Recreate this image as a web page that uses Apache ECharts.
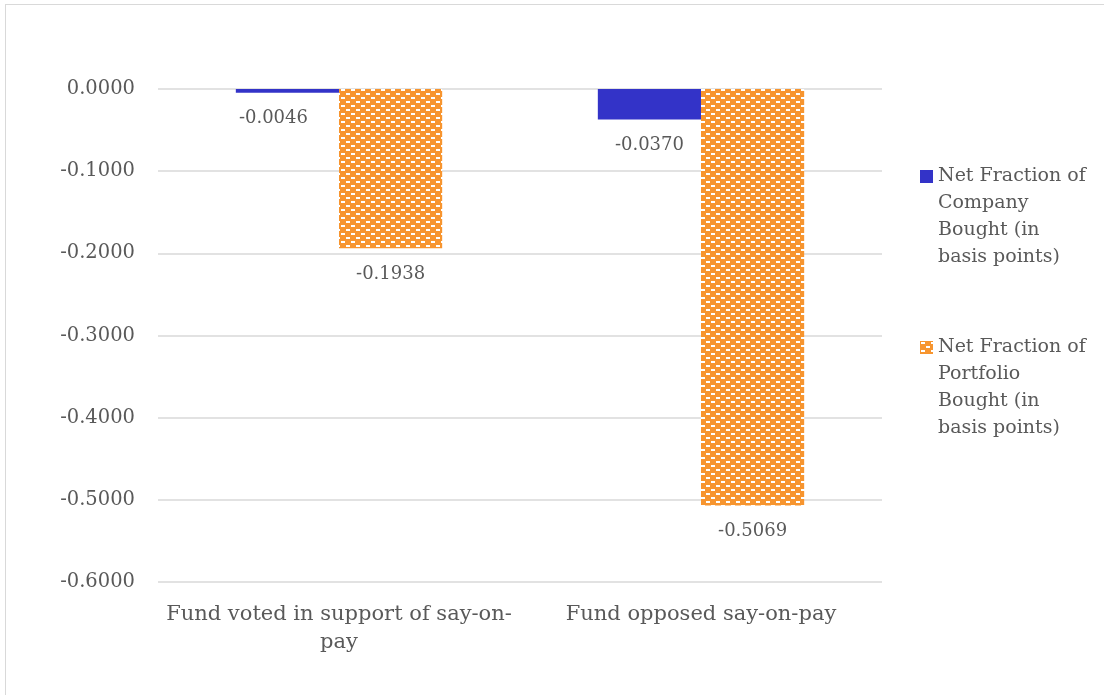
<!DOCTYPE html>
<html>
<head>
<meta charset="utf-8">
<script src="https://cdn.jsdelivr.net/npm/echarts@6/dist/echarts.min.js"></script>
<style>
html,body{margin:0;padding:0;background:#fff;overflow:hidden;}
#frame{position:absolute;left:5px;top:4px;width:1120px;height:720px;border:1.5px solid #D9D9D9;box-sizing:border-box;}
#chart{position:absolute;left:0;top:0;width:1104px;height:695px;}
</style>
</head>
<body>
<div id="frame"></div>
<div id="chart"></div>
<script>
const categories = ["Fund voted in support of say-on-\npay", "Fund opposed say-on-pay"];
const seriesNames = ["Net Fraction of Company Bought (in basis points)", "Net Fraction of Portfolio Bought (in basis points)"];
const legendLines = {
  "Net Fraction of Company Bought (in basis points)": "Net Fraction of\nCompany\nBought (in\nbasis points)",
  "Net Fraction of Portfolio Bought (in basis points)": "Net Fraction of\nPortfolio\nBought (in\nbasis points)"
};
const companyBought = [-0.0046, -0.0370];
const portfolioBought = [-0.1938, -0.5069];
const yMin = -0.6, yMax = 0, yStep = 0.1;

function makePattern() {
  const c = document.createElement('canvas');
  c.width = 10; c.height = 8;
  const g = c.getContext('2d');
  g.fillStyle = '#F7952F';
  g.fillRect(0, 0, 10, 8);
  g.fillStyle = '#FFFFFF';
  g.fillRect(1, 1, 4, 2);
  g.fillRect(6, 5, 4, 2);
  return c;
}
const pattern = { image: makePattern(), repeat: 'repeat' };

const font = '"DejaVu Serif", "Liberation Serif", serif';
const textColor = '#595959';

// first company label is nudged left in the original (label collision avoidance)
const companyData = companyBought.map(function (v, i) {
  return i === 0 ? { value: v, label: { offset: [-14, 0] } } : v;
});

const chart = echarts.init(document.getElementById('chart'), null, {renderer: 'canvas'});
chart.setOption({
  animation: false,
  backgroundColor: 'transparent',
  grid: { left: 158, right: 222, top: 89, bottom: 113, containLabel: false },
  legend: {
    orient: 'vertical',
    left: 915,
    top: 77,
    itemWidth: 13,
    itemHeight: 13,
    itemGap: -18,
    icon: 'rect',
    data: seriesNames,
    formatter: function (name) { return '\n\n\n' + legendLines[name]; },
    textStyle: { fontFamily: font, fontSize: 19, color: textColor, lineHeight: 27 }
  },
  xAxis: {
    type: 'category',
    data: categories,
    axisLine: { show: false },
    axisTick: { show: false },
    axisLabel: { fontFamily: font, fontSize: 21, color: textColor, margin: 19, lineHeight: 28, interval: 0 }
  },
  yAxis: {
    type: 'value',
    min: yMin, max: yMax, interval: yStep,
    axisLine: { show: false },
    axisTick: { show: false },
    splitLine: { lineStyle: { color: '#D9D9D9', width: 1.5 } },
    axisLabel: { fontFamily: font, fontSize: 19.5, color: textColor, margin: 23,
      formatter: function (v) { return v.toFixed(4); } }
  },
  series: [
    {
      name: seriesNames[0], type: 'bar', data: companyData,
      barGap: '0%', barCategoryGap: '43%',
      itemStyle: { color: '#3333C8' },
      label: { show: true, position: 'bottom', distance: 17, fontFamily: font, fontSize: 18, color: textColor,
        formatter: function (p) { return p.value.toFixed(4); } }
    },
    {
      name: seriesNames[1], type: 'bar', data: portfolioBought,
      barGap: '0%', barCategoryGap: '43%',
      itemStyle: { color: pattern },
      label: { show: true, position: 'bottom', distance: 17, fontFamily: font, fontSize: 18, color: textColor,
        formatter: function (p) { return p.value.toFixed(4); } }
    }
  ]
});
</script>
</body>
</html>
